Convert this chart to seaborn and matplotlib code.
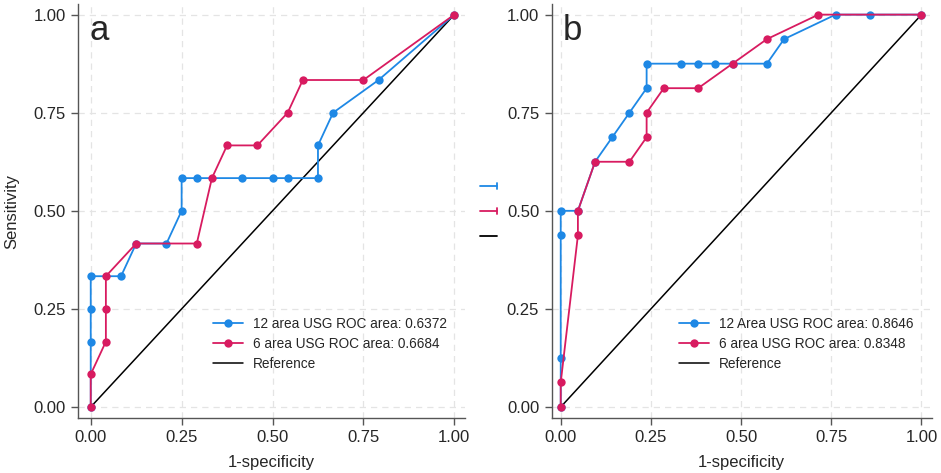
import numpy as np
import pandas as pd
import matplotlib
matplotlib.use("Agg")
import matplotlib.pyplot as plt
from matplotlib.lines import Line2D
import seaborn as sns

# Panel a: 12 positives, 24 negatives
a12_fpr = [0, 0, 0, 0, 2/24, 3/24, 5/24, 6/24, 6/24, 7/24, 10/24, 12/24, 13/24, 15/24, 15/24, 16/24, 19/24, 1]
a12_tpr = [0, 2/12, 3/12, 4/12, 4/12, 5/12, 5/12, 6/12, 7/12, 7/12, 7/12, 7/12, 7/12, 7/12, 8/12, 9/12, 10/12, 1]
a6_fpr = [0, 0, 1/24, 1/24, 1/24, 3/24, 7/24, 8/24, 9/24, 11/24, 13/24, 14/24, 18/24, 1]
a6_tpr = [0, 1/12, 2/12, 3/12, 4/12, 5/12, 5/12, 7/12, 8/12, 8/12, 9/12, 10/12, 10/12, 1]

# Panel b: 16 positives, 21 negatives
b12_fpr = [0, 0, 0, 0, 1/21, 2/21, 3/21, 4/21, 5/21, 5/21, 7/21, 8/21, 9/21, 10/21, 12/21, 13/21, 16/21, 18/21, 1]
b12_tpr = [0, 2/16, 7/16, 8/16, 8/16, 10/16, 11/16, 12/16, 13/16, 14/16, 14/16, 14/16, 14/16, 14/16, 14/16, 15/16, 1, 1, 1]
b6_fpr = [0, 0, 1/21, 1/21, 2/21, 4/21, 5/21, 5/21, 6/21, 8/21, 10/21, 12/21, 15/21, 1]
b6_tpr = [0, 1/16, 7/16, 8/16, 10/16, 10/16, 11/16, 12/16, 13/16, 13/16, 14/16, 15/16, 1, 1]

labels_a = ["12 area USG ROC area: 0.6372", "6 area USG ROC area: 0.6684", "Reference"]
labels_b = ["12 Area USG ROC area: 0.8646", "6 area USG ROC area: 0.8348", "Reference"]
ticks = [0, 0.25, 0.5, 0.75, 1.0]
tick_labels = ["0.00", "0.25", "0.50", "0.75", "1.00"]

BLUE = "#1e88e5"
RED = "#d81b60"

sns.set_style("white")
plt.rcParams["font.family"] = ["Liberation Sans", "DejaVu Sans"]

fig = plt.figure(figsize=(9.41, 4.73), dpi=100)
ax_a = fig.add_axes([0.0829, 0.1163, 0.4111, 0.8752])
ax_b = fig.add_axes([0.5863, 0.1163, 0.4037, 0.8752])


def draw_panel(ax, fpr12, tpr12, fpr6, tpr6, labels, letter, xlim):
    ref = pd.DataFrame({"x": [0, 1], "y": [0, 1]})
    sns.lineplot(x=fpr12, y=tpr12, sort=False, estimator=None, errorbar=None, ax=ax,
                 color=BLUE, lw=1.3, marker="o", markersize=6, markeredgewidth=0,
                 label=labels[0], zorder=3)
    sns.lineplot(x=fpr6, y=tpr6, sort=False, estimator=None, errorbar=None, ax=ax,
                 color=RED, lw=1.3, marker="o", markersize=6, markeredgewidth=0,
                 label=labels[1], zorder=4)
    sns.lineplot(data=ref, x="x", y="y", ax=ax, color="black", lw=1.1,
                 estimator=None, errorbar=None, label=labels[2], zorder=2)
    ax.set_xlim(*xlim)
    ax.set_ylim(-0.028, 1.027)
    ax.set_xticks(ticks)
    ax.set_xticklabels(tick_labels)
    ax.set_yticks(ticks)
    ax.set_yticklabels(tick_labels)
    ax.tick_params(axis="both", direction="out", length=5, width=1, color="#555555",
                   labelsize=12, pad=4, left=True, bottom=True)
    ax.grid(True, linestyle=(0, (5, 4)), color="#e4e4e4", lw=0.9)
    ax.set_axisbelow(True)
    for side in ["top", "right"]:
        ax.spines[side].set_visible(False)
    for side in ["left", "bottom"]:
        ax.spines[side].set_color("#555555")
        ax.spines[side].set_linewidth(1)
    ax.set_xlabel("1-specificity", fontsize=12, labelpad=7)
    ax.set_ylabel("")
    ax.text(0.03, 0.975, letter, transform=ax.transAxes, fontsize=25,
            va="top", ha="left")
    ax.legend(loc="lower right", bbox_to_anchor=(0.985, 0.085), frameon=False,
              fontsize=9.8, handlelength=2.2, labelspacing=0.42, handletextpad=0.75)


draw_panel(ax_a, a12_fpr, a12_tpr, a6_fpr, a6_tpr, labels_a, "a", (-0.035, 1.029))
draw_panel(ax_b, b12_fpr, b12_tpr, b6_fpr, b6_tpr, labels_b, "b", (-0.025, 1.028))
ax_a.set_ylabel("Sensitivity", fontsize=12, labelpad=10)

# clipped legend fragments between the panels
for yy, col, tick in [(0.6068, BLUE, True), (0.5539, RED, True), (0.5011, "black", False)]:
    fig.add_artist(Line2D([0.510, 0.528], [yy, yy], color=col, lw=1.3,
                          transform=fig.transFigure))
    if tick:
        fig.add_artist(Line2D([0.528, 0.528], [yy - 0.006, yy + 0.006], color=col,
                              lw=1.3, transform=fig.transFigure))

fig.savefig("out.png", dpi=100)
